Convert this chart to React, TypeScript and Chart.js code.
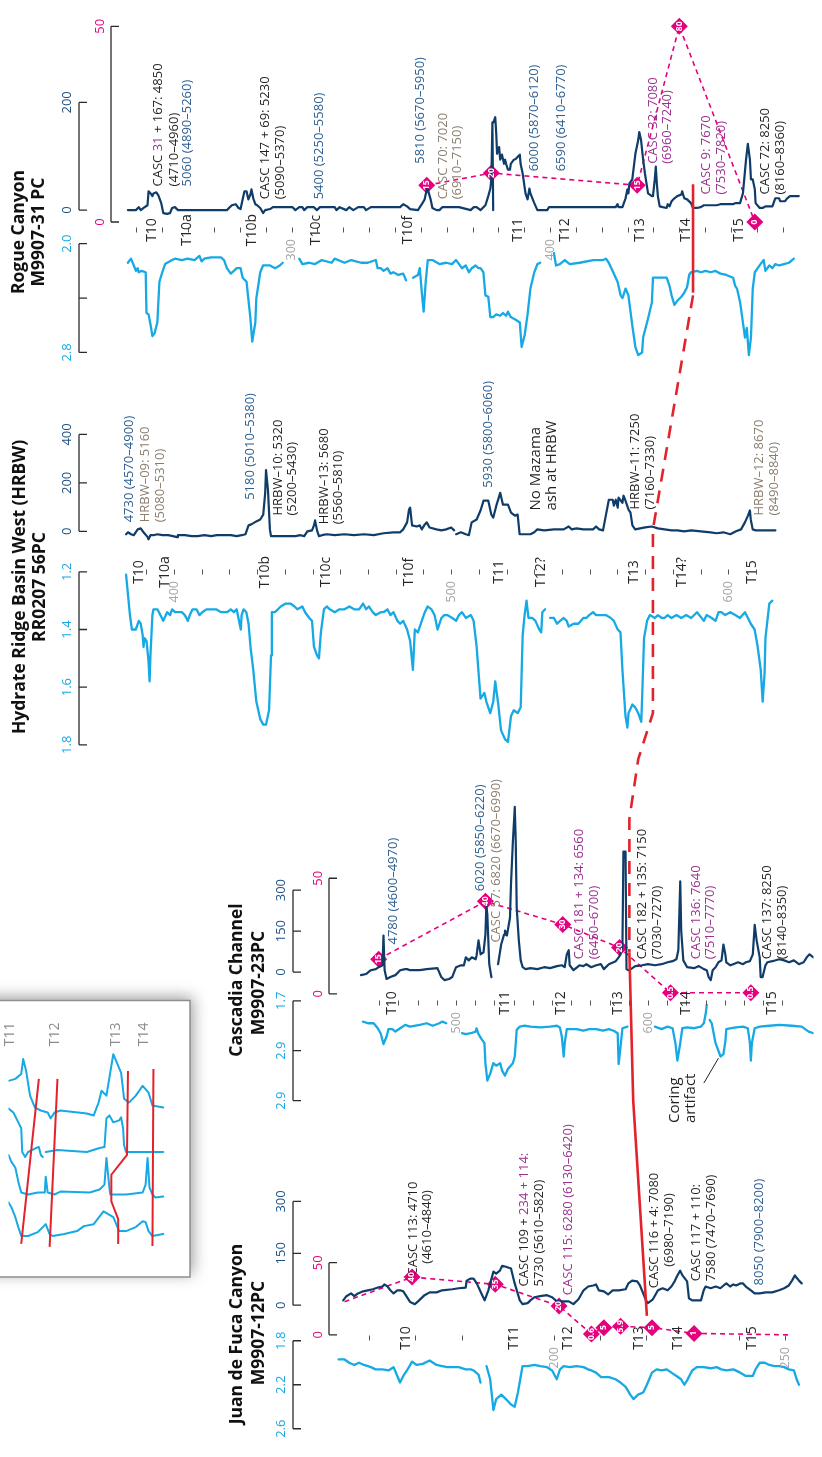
import React, { useEffect, useRef } from 'react';
import { Chart, registerables } from 'chart.js';

Chart.register(...registerables);

type Pt = [number, number] | null;
type Note = { d: number; v: number; t: string | string[]; k: string | string[]; big?: boolean; den?: boolean };

// ---------------- Rogue Canyon M9907-31 PC (depth cm, value) ----------------
const rogueSusc: Pt[] = [
  [236.7,0],[239.8,0],[240.9,5.5],[241.7,0],[242.8,4],[244.3,9],[244.7,35],[245.5,31],[246.2,26],[246.6,31],[247.7,33],[248.5,27.5],[249.6,13],[250.4,-5.5],[251.9,-7],[253,-5.5],[253.8,4],[254.9,5.5],[256.1,0],[258.7,0],[275,0],[276.9,9],[278.4,11],[279.5,4],[280.3,2],[281.1,20],[281.8,35],[282.6,35],[283.3,20],[284.1,29],[284.5,38.5],[285.2,22],[286,11],[286.7,9],[287.9,4],[289,-5.5],[289.8,0],[291.7,2],[292.8,5.5],[300.4,5.5],[301.5,0],[303,5.5],[304.2,5.5],[304.9,0],[306.1,5.5],[308.7,5.5],[309.8,0],[311,5.5],[316.7,5.5],[317.4,0],[318.6,5.5],[321.2,0],[322.3,5.5],[323.9,0],[325.8,5.5],[328,5.5],[328.8,0],[330.7,5.5],[342,5.5],[343.2,11],[344.7,7],[345.8,2],[348.9,0],[350.4,11],[351.5,20],[352.3,38.5],[352.7,38.5],[353.8,20],[354.5,4],[356.1,0],[357.2,0],[358.3,5.5],[364.8,5.5],[369.3,0],[370.5,5.5],[371.6,5.5],[373.1,0],[375,9],[376.1,26],[376.9,40],[377.3,57],[377.7,163],[378,0],null,[378.1,163],[378.8,172.5],[379.2,141],[379.5,104.6],[380.3,117],[380.7,93.6],[381.4,103],[382.2,86],[382.6,93.6],[383,86],[383.7,75],[384.5,75],[384.8,86],[386,93.6],[386.7,95],[387.5,99],[388.3,103],[388.6,86],[389.4,68],[390.5,31],[391.3,20],[392,40],[392.4,31],[393.9,13],[395.1,0],[398.9,0],[399.6,5.5],[425.4,5.5],[426.1,11],[426.5,5.5],[428,5.5],[429.2,22],[429.9,38.5],[430.3,31],[430.7,49.5],[431.8,57],[433,104.6],[434.1,130],[434.5,145],[435.2,130],[436,93.6],[436.7,68],[437.9,31],[439.4,26],[439.8,26],[440.5,57],[440.9,81],[441.3,49.5],[441.7,26],[442.4,7],[443.6,5.5],[445.1,4],[445.5,11],[446.2,7],[447,16.5],[448.1,22],[449.2,26],[450.8,29],[451.1,35],[451.9,22],[453,20],[454.5,13],[455.3,4],[456.8,4],[458.3,5.5],[459.5,9],[464.4,9],[465.9,11],[470.8,11],[471.6,13],[473.5,13],[473.9,20],[474.6,31],[475.8,93.6],[476.5,123],[477.3,93.6],[477.7,57],[478.4,57],[479.2,38.5],[479.5,13],[481.1,4],[482.2,4],[483.3,7],[486,7],[487.1,22],[488.6,22],[489,16.5],[490.9,16.5],[491.7,22],[492.8,26],[496.2,26]
];
const rogueDensity: Pt[] = [
  [236.7,2.14],[237.9,2.11],[239,2.16],[239.8,2.2],[240.5,2.18],[240.9,2.21],[242,2.2],[243.6,2.21],[243.9,2.51],[244.7,2.52],[245.5,2.6],[246.2,2.68],[247,2.66],[248.1,2.58],[248.9,2.28],[250,2.21],[251.1,2.15],[253.8,2.12],[254.9,2.11],[257.6,2.12],[259.8,2.11],[262.5,2.12],[264.4,2.09],[265.2,2.13],[266.3,2.11],[268.9,2.1],[272.7,2.1],[273.9,2.12],[275,2.18],[276.5,2.22],[277.7,2.2],[278.8,2.18],[280.3,2.18],[281.1,2.25],[282.6,2.28],[284.1,2.55],[284.8,2.72],[286,2.58],[286.4,2.4],[287.9,2.21],[289,2.16],[291.7,2.16],[293.6,2.18],[295.5,2.16],[296.6,2.14],null,[303,2.11],[304.2,2.15],[306.8,2.14],[309.1,2.15],[311.7,2.12],[315.5,2.14],[316.7,2.11],[320.5,2.14],[323.1,2.12],[326.9,2.14],[329.5,2.14],[332.6,2.12],[333.3,2.18],[334.5,2.18],[335.6,2.2],[337.1,2.18],[338.3,2.22],[339.4,2.21],[341.3,2.23],[343.2,2.22],[344.3,2.27],null,[347,2.25],[348.9,2.23],[349.6,2.18],[350.4,2.36],[351.1,2.5],[351.9,2.28],[352.7,2.12],[354.5,2.12],[357.2,2.15],[359.8,2.14],[362.1,2.15],[363.6,2.12],[364.8,2.15],[365.9,2.18],[367.4,2.16],[368.6,2.21],[369.7,2.18],[371.2,2.16],[372.3,2.18],[373.1,2.18],[374.2,2.21],[375,2.38],[376.1,2.39],[376.9,2.54],[378,2.54],[379.2,2.52],[380.7,2.53],[381.8,2.51],[383,2.53],[383.7,2.5],[384.8,2.54],[386.7,2.56],[388.3,2.58],[389,2.76],[390.2,2.67],[391.3,2.52],[392.4,2.33],[393.9,2.21],[395.1,2.15],[396.2,2.14],null,[401.5,2.07],[402.3,2.16],[403.8,2.15],[405.7,2.12],[407.6,2.15],[411.4,2.14],[416.7,2.12],[420.5,2.12],[421.6,2.11],[422.7,2.14],[424.2,2.2],[426.1,2.28],[427.3,2.38],[428,2.4],[429.2,2.33],[430.3,2.38],[431.8,2.6],[433,2.76],[434.1,2.82],[435.6,2.8],[436,2.69],[437.9,2.55],[439.4,2.43],[439.8,2.25],[441.3,2.25],[443.2,2.25],[445.1,2.25],[446.2,2.31],[447,2.38],[448.1,2.45],[449.2,2.42],[450.8,2.39],[451.9,2.36],[453,2.32],[453.8,2.23],[454.5,2.21],[456.8,2.2],[458.3,2.21],[460.2,2.2],[462.1,2.21],[464,2.2],[465.9,2.22],[468.2,2.23],[470.8,2.25],[471.6,2.31],[472.3,2.33],[473.5,2.43],[474.6,2.58],[475.4,2.69],[476.1,2.62],[476.9,2.82],[477.7,2.69],[478.4,2.33],[479.2,2.21],[480.3,2.18],[481.4,2.15],[482.6,2.12],[483.3,2.2],[484.8,2.16],[486,2.18],[487.1,2.15],[488.6,2.16],[490.5,2.15],[492.4,2.14],[494.3,2.11]
];
const rogueSandDepth = [352.3, 377.3, 433.7, 450, 479.2];
const rogueSandPct = [15, 20, 15, 80, 0];
const rogueSandShown = [true, true, true, true, true];
const rogueEvents = ['T10', 'T10a', 'T10b', 'T10c', 'T10f', 'T11', 'T12', 'T13', 'T14', 'T15'];
const rogueEventDepth = [246.2, 259.5, 284.8, 309.5, 345.1, 387.5, 405.7, 434.8, 452.7, 473.1];
const rogueDepthLabels = [300, 400];
const rogueSuscTicks = [0, 200];
const rogueSuscTickText = ['0', '200'];
const rogueDensTicks = [2.0, 2.4, 2.8];
const rogueDensTickText = ['2.0', '', '2.8'];
const rogueSandTicks = [0, 80];
const rogueSandTickText = ['0', '50'];
const rogueNotes: Note[] = [
  { d: 248.5, v: 44, t: ['CASC ', '31', ' + 167: 4850'], k: ['k', 'p', 'k'] },
  { d: 254.5, v: 44, t: '(4710–4960)', k: 'k' },
  { d: 259.5, v: 44, t: '5060 (4890–5260)', k: 'b' },
  { d: 289.8, v: 20, t: 'CASC 147 + 69: 5230', k: 'k' },
  { d: 295.5, v: 20, t: '(5090–5370)', k: 'k' },
  { d: 310.6, v: 20, t: '5400 (5250–5580)', k: 'b' },
  { d: 350, v: 86, t: '5810 (5670–5950)', k: 'b' },
  { d: 358.7, v: 20, t: 'CASC 70: 7020', k: 't' },
  { d: 364, v: 20, t: '(6910–7150)', k: 't' },
  { d: 393.9, v: 72, t: '6000 (5870–6120)', k: 'b' },
  { d: 404.5, v: 72, t: '6590 (6410–6770)', k: 'b' },
  { d: 439.8, v: 86, t: 'CASC 32: 7080', k: 'p' },
  { d: 445.5, v: 86, t: '(6960–7240)', k: 'p' },
  { d: 460.6, v: 29, t: 'CASC 9: 7670', k: 'p' },
  { d: 466.3, v: 29, t: '(7530–7820)', k: 'p' },
  { d: 483.3, v: 29, t: 'CASC 72: 8250', k: 'k' },
  { d: 489, v: 29, t: '(8160–8360)', k: 'k' },
];

// ---------------- Hydrate Ridge Basin West RR0207 56PC ----------------
const hrbwSusc: Pt[] = [
  [382.7,-12],[383.4,-4],[384.5,-12],[385.5,-16],[386.9,8],[388,12],[389,-4],[390.5,-24],[390.8,-33],[391.5,-16],[392.6,-16],[394,-12],[395.8,-16],[397.9,-16],[399.6,-20],[401.1,-24],[401.4,-16],[403.9,-16],[406.4,-20],[408.5,-20],[411,-16],[413.4,-20],[415.5,-16],[418,-16],[420.5,-16],[422.6,-20],[424.4,-16],[425.8,-12],[426.9,24.5],[427.9,28.6],[429.7,41],[431.1,49],[432.2,69],[432.9,159],[433.2,253],[433.9,171],[434.6,8],[435,-20],[438.2,-20],[443.8,-20],[445.6,-16],[447,-20],[448.1,0],[449.8,4],[450.5,24.5],[450.9,45],[451.6,4],[452.3,-20],[453.4,-16],[455.1,-12],[458,-16],[461.5,-12],[465,-16],[468.6,-12],[472.1,-16],[475.6,-8],[479.2,-4],[481.6,-4],[482.7,8],[484.1,37],[484.8,90],[485.2,98],[485.9,24.5],[487.6,20],[488.7,24.5],[489.4,8],[490.5,28.6],[491.2,37],[492.2,16],[494.7,8],[496.5,4],[498.2,8],[500,16],[501.1,4],null,[501.8,-12],[503.5,-4],[505.3,-12],[506.4,-16],[507.4,37],[509.2,49],[510.6,86],[511.7,126.5],[513.4,126.5],[514.5,69],[515.2,57],[516.3,106],[517.7,159],[518.7,110],[520.5,110],[521.6,77.5],[523,65],[524,69],[524.7,-12],[528.6,-12],[530,-4],[531.1,8],[533.6,4],[537.1,8],[540.6,8],[542.4,20],[543.5,8],[545.2,12],[547.7,8],[551.2,8],[552.3,20],[553.4,8],[554.8,4],[555.8,65],[556.9,130.5],[558.3,130.5],[558.7,106],[559.4,130.5],[560.1,98],[560.4,139],[561.8,118],[562.2,147],[562.9,126.5],[564,90],[564.7,77.5],[565.4,24.5],[566.4,8],[570,16],[572.4,20],[574.6,12],[577,8],[579.5,4],[581.6,4],[584.1,0],[586.6,4],[590.1,0],[593.6,-4],[595.8,-8],[598.2,-4],[600.7,-12],[602.8,0],[604.6,8],[606,37],[607.1,65],[607.8,86],[608.1,49],[608.8,8],[609.9,4],[612.4,4],[614.8,4],[617,4]
];
const hrbwDensity: Pt[] = [
  [382.7,1.21],[383.4,1.28],[384.1,1.35],[384.8,1.4],[385.5,1.4],[386.2,1.4],[387.3,1.37],[388,1.38],[388.7,1.42],[389,1.46],[389.4,1.43],[390.1,1.44],[390.8,1.51],[391.2,1.58],[391.5,1.49],[392.2,1.35],[392.6,1.33],[394,1.33],[395.1,1.35],[396.1,1.37],[397.5,1.34],[398.6,1.35],[399.3,1.33],[400.4,1.34],[401.4,1.34],[402.8,1.34],[403.9,1.35],[405,1.37],[405.7,1.35],[406.7,1.33],[408.1,1.33],[409.2,1.35],[410.2,1.34],[411.7,1.33],[412.7,1.33],[413.8,1.33],[415.2,1.33],[417,1.34],[418,1.34],[419.1,1.34],[420.5,1.33],[421.6,1.34],[422.6,1.33],[424.1,1.4],[424.4,1.35],[425.1,1.33],[426.1,1.34],[426.9,1.38],[427.6,1.46],[428.6,1.54],[429.7,1.65],[431.1,1.71],[432.2,1.73],[433.2,1.73],[434.3,1.68],[435,1.49],[435.3,1.34],[436.4,1.34],[437.5,1.33],[438.5,1.32],[440.3,1.31],[442,1.31],[443.5,1.32],[444.5,1.33],[446.3,1.32],[447.3,1.34],[448.8,1.36],[449.8,1.37],[450.5,1.46],[451.6,1.49],[452.3,1.5],[453,1.41],[454.1,1.33],[455.1,1.32],[456.2,1.33],[458,1.34],[459.7,1.33],[461.5,1.33],[463.3,1.32],[465,1.33],[466.8,1.33],[468.2,1.31],[469.3,1.33],[470.3,1.32],[471.7,1.34],[472.8,1.35],[474.6,1.34],[475.6,1.34],[477,1.33],[478.1,1.35],[479.2,1.34],[480.6,1.37],[481.6,1.38],[482.7,1.37],[484.1,1.4],[485.2,1.44],[486.2,1.54],[486.9,1.4],[488,1.41],[489.4,1.37],[490.5,1.34],[491.5,1.32],[492.9,1.33],[494,1.35],[495.1,1.4],[496.5,1.36],[497.5,1.35],[498.6,1.35],[500.4,1.36],[501.8,1.37],[502.8,1.35],[503.9,1.34],[505.3,1.36],[507.1,1.35],[508.1,1.37],[509.2,1.46],[510.6,1.64],[512,1.62],[512.7,1.65],[514.1,1.69],[515.2,1.65],[515.9,1.58],[517,1.66],[518,1.75],[519.4,1.78],[520.5,1.79],[521.6,1.7],[522.6,1.68],[524,1.69],[525.1,1.67],[525.8,1.42],[526.5,1.35],[527.2,1.3],[527.9,1.36],[529.3,1.36],[530.4,1.37],[531.8,1.4],[532.5,1.41],[532.9,1.34],[533.9,1.33],null,[535.7,1.36],[537.1,1.36],[538.2,1.38],[540.6,1.36],[541.7,1.37],[542.4,1.39],[544.2,1.38],[545.9,1.38],[547.7,1.36],[548.8,1.36],[549.8,1.35],[551.2,1.34],[552.3,1.35],[554.1,1.35],[555.8,1.35],[557.6,1.36],[558.7,1.37],[560.1,1.4],[561.1,1.41],[561.8,1.54],[562.9,1.7],[563.6,1.74],[564,1.69],[565.4,1.66],[566.4,1.67],[567.5,1.69],[568.6,1.72],[568.9,1.64],[569.6,1.43],[570.7,1.37],[571.7,1.35],[573.5,1.36],[574.6,1.35],[576,1.36],[577,1.36],[578.1,1.35],[579.5,1.36],[581.3,1.35],[583,1.36],[584.8,1.35],[586.6,1.36],[588.7,1.34],[591.2,1.37],[592.2,1.35],[594,1.36],[595.4,1.37],[596.5,1.34],[597.5,1.34],[598.9,1.35],[600.7,1.34],[602.5,1.35],[604.2,1.36],[606,1.34],[607.1,1.36],[608.1,1.38],[609.5,1.4],[610.6,1.46],[611.7,1.54],[612.4,1.65],[613.1,1.55],[613.4,1.43],[614.1,1.37],[614.8,1.31],[615.9,1.3]
];
const hrbwEvents = ['T10', 'T10a', 'T10b', 'T10c', 'T10f', 'T11', 'T12?', 'T13', 'T14?', 'T15'];
const hrbwEventDepth = [387.3, 396.8, 432.9, 454.8, 484.8, 517.3, 532.5, 566.1, 583.4, 608.5];
const hrbwDepthLabels = [400, 500, 600];
const hrbwSuscTicks = [0, 200, 400];
const hrbwSuscTickText = ['0', '200', '400'];
const hrbwDensTicks = [1.2, 1.4, 1.6, 1.8];
const hrbwDensTickText = ['1.2', '1.4', '1.6', '1.8'];
const hrbwNotes: Note[] = [
  { d: 383.7, v: 37, t: '4730 (4570–4900)', k: 'b' },
  { d: 389.8, v: 37, t: 'HRBW–09: 5160', k: 't' },
  { d: 395.1, v: 37, t: '(5080–5310)', k: 't' },
  { d: 427.6, v: 130, t: '5180 (5010–5380)', k: 'b' },
  { d: 437.5, v: 65, t: 'HRBW–10: 5320', k: 'k' },
  { d: 442.8, v: 65, t: '(5200–5430)', k: 'k' },
  { d: 454.1, v: 29, t: 'HRBW–13: 5680', k: 'k' },
  { d: 459.4, v: 29, t: '(5560–5810)', k: 'k' },
  { d: 513.4, v: 180, t: '5930 (5800–6060)', k: 'b' },
  { d: 530.4, v: 86, t: 'No Mazama', k: 'k', big: true },
  { d: 536.4, v: 86, t: 'ash at HRBW', k: 'k', big: true },
  { d: 566.4, v: 90, t: 'HRBW–11: 7250', k: 'k' },
  { d: 571.7, v: 90, t: '(7160–7330)', k: 'k' },
  { d: 611.3, v: 65, t: 'HRBW–12: 8670', k: 't' },
  { d: 616.6, v: 65, t: '(8490–8840)', k: 't' },
];

// ---------------- Cascadia Channel M9907-23PC ----------------
const cascSusc: Pt[] = [
  [450.5,-11],[453.1,-7],[455.6,7],[458.2,11],[459.7,18],[461.7,25],[462.2,134],[462.8,7],[463.8,-25],[465.8,-18],[468.4,-11],[470.9,7],[473.5,11],[474.5,11],[476,7],[477.6,7],[481.1,7],[484.7,11],[490.3,14.5],[492.3,-18],[493.9,-29],[496.4,-25],[498,-18],[500,18],[502.6,25],[504.1,25],[505.1,54],[506.6,43],[508.2,54],[510.2,47],[510.7,61],[511.7,116],[512.8,65],[514.3,72],[515.3,137],[515.8,246],[516.3,210],[517.3,29],[518.4,-18],null,[521.9,29],[523.5,101],[525,137],[525.5,152],[526.5,134],[528.1,199],[528.6,318],[529.6,477],[530.6,604],[531.1,477],[531.6,235],[532.7,116],[533.7,43],[534.7,18],[536.2,11],[538.8,14.5],[542.3,11],[545.9,18],[549,14.5],[552.6,22],[555.1,25],[556.6,18],[557.7,65],[558.7,80],[559.2,25],[561.2,7],[564.3,25],[566.3,22],[567.9,29],[570.4,18],[573,25],[575.5,29],[577,11],[579.6,29],[583.2,40],[584.7,54],[585.7,65],[586.7,101],[587.2,441],[588.3,441],[588.8,11],[589.8,7],[591.8,14.5],[593.4,22],[596.9,25],[600,29],[603.6,25],[607.1,29],[610.2,36],[612.8,40],[614.8,47],[615.8,80],[616.8,332],[617.3,152],[618.4,43],[620.4,18],[624,14.5],[626.5,22],[629.1,11],[630.6,7],[631.6,-18],[632.7,-29],[633.7,7],[635.2,18],[636.7,36],[638.3,43],[639.3,101],[640.3,65],[640.8,36],[642.9,25],[644.4,29],[646.9,36],[649.5,29],[651,36],[653.1,40],[654.6,65],[655.6,173],[656.6,116],[658.2,54],[658.7,-18],[659.7,-18],[661.2,25],[662.2,36],[664.8,40],[668.4,47],[670.9,43],[673.5,36],[676,43],[678.6,29],[681.1,36],[682.7,54],[684.2,65],[686.2,54]
];
const cascDensity: Pt[] = [
  [451.5,1.95],[454.1,1.97],[457.1,1.97],[459.2,2.03],[460.7,2.09],[462.2,2.22],[463.8,2.13],[464.8,2.04],[466.8,2.04],[468.4,2.07],[470.9,2.03],[473.5,1.99],[476,2.01],[481.1,1.99],[484.7,1.97],[487.8,2.0],[491.3,1.97],[492.9,1.95],[494.9,1.97],null,[503.1,2.09],[505.1,2.1],[507.7,2.09],[510.2,2.07],[510.7,2.03],[511.7,2.1],[513.3,2.16],[514.8,2.21],[515.3,2.45],[516.3,2.66],[517.9,2.57],[519.4,2.45],[520.9,2.48],[523,2.45],[524,2.54],[525.5,2.6],[527,2.52],[529.6,2.45],[530.6,2.37],[531.6,2.05],[533.2,2.01],[535.7,2.0],[538.8,2.01],[543.9,2.02],[549,2.01],[552.6,2.0],[554.1,2.02],[555.1,2.13],[556.1,2.37],[556.6,2.21],[557.7,2.04],[559.2,2.04],[562.8,2.04],[566.3,2.06],[569.4,2.04],[573,2.04],[576.5,2.06],[579.6,2.04],[582.1,2.06],[584.2,2.09],[584.7,2.46],[585.7,2.25],[586.7,2.03],[589.3,2.01],null,[603.6,2.01],[607.1,2.04],[610.2,2.01],[612.8,2.03],[614.3,2.21],[615.3,2.42],[616.8,2.21],[617.9,2.03],[620.4,2.02],[624,2.03],[627.6,2.01],[629.1,1.97],[630.1,1.85],[630.6,1.75],null,[632.1,1.93],[633.2,1.97],[635.2,2.21],[637.8,2.37],[639.3,2.34],[640.3,2.19],[640.8,2.04],[643.4,2.03],[645.9,2.02],[649.5,2.01],[652,2.03],[653.1,2.21],[653.6,2.42],[654.1,2.21],[655.6,2.03],[658.2,2.01],[663.3,2.0],[668.4,1.99],[675,2.0],[680.1,2.01],[683.7,2.07],[686.2,2.09]
];
const cascSandDepth = [459.7, 515.3, 555.6, 585.2, 611.7, 653.6];
const cascSandPct = [15, 40, 30, 20, 0.5, 0.5];
const cascSandShown = [true, true, true, true, true, true];
const cascEvents = ['T10', 'T11', 'T12', 'T13', 'T14', 'T15'];
const cascEventDepth = [466.8, 525.5, 554.6, 584.2, 619.9, 664.8];
const cascDepthLabels = [500, 600];
const cascSuscTicks = [0, 150, 300];
const cascSuscTickText = ['0', '150', '300'];
const cascDensTicks = [1.7, 2.3, 2.9];
const cascDensTickText = ['1.7', '2.9', '2.9'];
const cascSandTicks = [0, 50];
const cascSandTickText = ['0', '50'];
const cascNotes: Note[] = [
  { d: 467.3, v: 101, t: '4780 (4600–4970)', k: 'b' },
  { d: 512.8, v: 296, t: '6020 (5850–6220)', k: 'b' },
  { d: 520.9, v: 108, t: 'CASC 57: 6820 (6670–6990)', k: 't' },
  { d: 564.3, v: 47, t: 'CASC 181 + 134: 6560', k: 'p' },
  { d: 571.9, v: 47, t: '(6450–6700)', k: 'p' },
  { d: 596.9, v: 47, t: 'CASC 182 + 135: 7150', k: 'k' },
  { d: 605.1, v: 47, t: '(7030–7270)', k: 'k' },
  { d: 625, v: 47, t: 'CASC 136: 7640', k: 'p' },
  { d: 632.7, v: 47, t: '(7510–7770)', k: 'p' },
  { d: 662.2, v: 47, t: 'CASC 137: 8250', k: 'k' },
  { d: 669.9, v: 47, t: '(8140–8350)', k: 'k' },
  { d: 613.8, v: 3.17, t: 'Coring', k: 'k', big: true, den: true },
  { d: 622.4, v: 3.17, t: 'artifact', k: 'k', big: true, den: true },
];
// leader from the "Coring artifact" note to the density trace
const cascArtifactLeader: [number, number][] = [[629.1, 2.69], [636.7, 2.39]];

// ---------------- Juan de Fuca Canyon M9907-12PC ----------------
const jdfSusc: Pt[] = [
  [154.4,14],[155.1,26],[156.1,34],[156.8,26],[157.6,34],[158.7,40],[159.7,43],[160.8,46],[161.9,51],[162.9,54],[163.3,60],[164,54],[164.6,43],[165.3,34],[166.1,43],[166.7,43],[167.4,40],[168.9,9],[169.9,3],[170.6,11],[172,29],[173.1,37],[174.6,37],[175.8,43],[178,46],[179.4,49],[180.9,51],[181.1,71],[182,77],[182.6,77],[183.3,63],[184.3,34],[185,14],[185.8,43],[186.9,97],[187.5,91],[188.3,100],[188.8,114],[189.6,111],[190.7,106],[191.5,63],[192.6,14],[193.2,3],[194.3,6],[194.9,14],[195.8,23],[197,26],[198.5,29],[199.6,23],[200.6,11],[201.7,11],[203.2,11],[204.2,3],[205.3,17],[206.4,43],[207.4,54],[208.5,57],[209.1,60],[209.7,43],[210.8,40],[211.7,31],[212.7,43],[214,43],[215.5,46],[216.1,63],[216.9,71],[218,69],[218.6,57],[219.3,34],[219.9,14],[220.3,6],[221.4,17],[222.5,43],[223.5,49],[224.6,43],[225.4,54],[226.1,69],[226.7,86],[227.3,100],[227.8,86],[228.8,69],[229.2,20],[229.9,14],[230.7,14],[231.8,14],[232.4,43],[232.8,54],[233.9,49],[235,54],[236,49],[236.7,57],[237.3,63],[238.1,54],[238.8,60],[239.4,57],[240.3,63],[240.9,63],[241.5,54],[242.6,43],[243.4,34],[244.5,34],[245.8,37],[247.2,37],[248.7,43],[249.8,49],[250.8,57],[251.5,71],[252.1,86],[253,71],[253.6,63]
];
const jdfDensity: Pt[] = [
  [153.4,1.97],[154.7,1.97],[155.7,2.0],[156.8,2.02],[157.8,2.0],[158.9,2.02],[160.4,2.04],[161.4,2.06],[162.9,2.06],[164.2,2.07],[165.3,2.04],[166.1,2.12],[166.7,2.18],[167.4,2.12],[168.2,2.07],[169.3,1.99],[170.3,2.02],[171.6,2.01],[173.1,1.98],[174.6,2.02],[175.8,2.03],[176.9,2.04],[178,2.04],[179.4,2.04],[180.9,2.06],[182,2.06],[182.6,2.07],[183.7,2.11],[184.1,2.18],null,[185.4,2.03],[186.2,2.15],[186.9,2.43],[187.5,2.33],[188.6,2.29],[189.6,2.33],[190.7,2.38],[191.5,2.4],[192.2,2.27],[193.2,2.03],[194.3,2.03],[195.8,2.02],[197,2.03],[198.5,2.04],[199.6,2.07],[200.6,2.15],[201.3,2.06],[202.1,2.03],[203.4,2.04],[204.9,2.03],[206.4,2.04],[207.4,2.06],[208.1,2.07],[209.1,2.09],[210.2,2.13],[210.8,2.13],[211.9,2.13],[213.3,2.15],[214.4,2.18],[215.5,2.22],[216.5,2.29],[217.2,2.33],[218.2,2.29],[219.3,2.27],[220.1,2.2],[221.2,2.09],[222.2,2.06],[223.3,2.07],[224.4,2.06],[225.4,2.09],[226.5,2.12],[227.5,2.15],[228.2,2.2],[228.8,2.16],[229.9,2.07],[230.9,2.04],[232.4,2.04],[233.9,2.05],[235.2,2.04],[236.2,2.06],[237.3,2.07],[238.8,2.06],[240.3,2.09],[241.5,2.12],[243,2.12],[243.6,2.06],[244.5,2.0],[245.6,2.0],[246.6,2.02],[247.7,2.03],[248.7,2.03],[249.8,2.04],[250.8,2.06],[251.9,2.07],[252.5,2.15],[253,2.2]
];
const jdfSandDepth = [154.7, 169.3, 187.3, 201.1, 208.1, 210.8, 214.4, 221.2, 230.3, 250.8];
const jdfSandPct = [23, 40, 35, 20, 0.6, 5, 5.9, 5, 1, 0];
const jdfSandShown = [false, true, true, true, true, true, true, true, true, false];
const jdfEvents = ['T10', 'T11', 'T12', 'T13', 'T14', 'T15'];
const jdfEventDepth = [168, 191.3, 203, 218.4, 226.9, 242.8];
const jdfDepthLabels = [200, 250];
const jdfSuscTicks = [0, 150, 300];
const jdfSuscTickText = ['0', '150', '300'];
const jdfDensTicks = [1.8, 2.2, 2.6];
const jdfDensTickText = ['1.8', '2.2', '2.6'];
const jdfSandTicks = [0, 50];
const jdfSandTickText = ['0', '50'];
const jdfNotes: Note[] = [
  { d: 169.5, v: 86, t: 'CASC 113: 4710', k: 'k' },
  { d: 172.7, v: 120, t: '(4610–4840)', k: 'k' },
  { d: 193.6, v: 54, t: ['CASC 109 + ', '234 + 114:'], k: ['k', 'p'] },
  { d: 196.8, v: 54, t: '5730 (5610–5820)', k: 'k' },
  { d: 203.2, v: 29, t: 'CASC 115: 6280 (6130–6420)', k: 'p' },
  { d: 221.6, v: 49, t: 'CASC 116 + 4: 7080', k: 'k' },
  { d: 225, v: 111, t: '(6980–7190)', k: 'k' },
  { d: 230.7, v: 69, t: 'CASC 117 + 110:', k: 'k' },
  { d: 234.1, v: 69, t: '7580 (7470–7690)', k: 'k' },
  { d: 244.5, v: 57, t: '8050 (7900–8200)', k: 'b' },
];

// ---------------- event correlation (red line), anchored in each core ----------------
type Anchor = [string, string, number, number];
const correlationUpper: Anchor[] = [
  ['x_rogue', 'y_rogueSusc', 455.3, 48], ['x_rogue', 'y_rogueDens', 455.3, 2.36],
];
const correlationProjected: Anchor[] = [
  ['x_rogue', 'y_rogueDens', 455.3, 2.38], ['x_hrbw', 'y_hrbwSusc', 572.8, 8],
  ['x_hrbw', 'y_hrbwDens', 572.8, 1.69], ['x_hrbw', 'y_hrbwDens', 567.5, 1.85],
  ['x_casc', 'y_cascSusc', 590.3, 560], ['x_casc', 'y_cascSusc', 590.3, 72],
];
const correlationLower: Anchor[] = [
  ['x_casc', 'y_cascSusc', 590.3, 72], ['x_casc', 'y_cascDens', 592.3, 2.9], ['x_jdf', 'y_jdfSusc', 220.1, -31],
];

// ---------------- inset: four density logs across T11–T14 ----------------
const insetCoreA: Pt[] = [[0,2.8],[3.5,3.0],[6.5,3.5],[7.5,5.0],[9,3.8],[11,1.3],[13.5,0.1],[16.5,-0.2],[20,-0.4],[21.5,-1.0],[23.5,-0.4],[26.5,-0.2],[40,-0.5],[43.5,-0.7],[46,0.6],[47.5,1.8],[50,1.3],[53.5,5.5],[57.5,3.6],[59,1.0],[61.5,0.6],[65,1.3],[68.5,2.3],[71.5,1.6],[73.5,0.3],[79,0.1]];
const insetCoreB: Pt[] = [[0,4.4],[2.5,4.0],[5,3.0],[6.5,2.4],[7,0],[8.5,-0.5],[10,0],[14,0.4],[15.5,0.5],[16.5,-0.3],[17.5,-0.5],null,[19,0],[25,0.2],[40,0],[46.5,0.4],[49,0.5],[50,3.4],[51.5,3.7],[53.5,3.0],[56.5,3.2],[57.5,3.5],[58.5,2.4],[59,0.7],[60,0],[79,0]];
const insetCoreC: Pt[] = [[0,4.0],[1.5,3.3],[3.5,2.7],[5,1.3],[6.5,0.2],[10,0],[15,0.2],[18.5,0.2],[19,1.8],[20,0.2],[23.5,0],[26.5,0.3],[41.5,0.2],[46.5,0.5],[49,1.0],[50,3.7],[51.5,0.7],[52,0],[60,0],[68.5,0.2],[70,1.0],[71,3.7],[72,0.7],[73.5,0],[75,-0.3],[79,-0.2]];
const insetCoreD: Pt[] = [[0,3.2],[1.5,2.7],[3.5,1.7],[5,0.7],[6.5,-0.2],[10,-0.2],[15,0.2],[17.5,0.7],[19,1.0],[21,0],[22.5,-0.2],[28.5,0],[35,0.3],[38.5,0.8],[43.5,1.0],[48.5,2.3],[53.5,1.7],[55,1.0],[56.5,0.3],[60,0.3],[65,0.7],[68.5,1.3],[70,1.2],[71.5,0.3],[73.5,-0.2],[79,0]];
const insetLinks: [number, number][][] = [
  [[15.5, 19.4], [6.5, 2.7]],
  [[25, 19.4], [21, 2.4]],
  [[61, 20.2], [60.5, 11.7], [52.5, 9.7], [52.5, 7.0], [56, 5.2], [56, 2.7]],
  [[74, 20.4], [73.5, 2.5]],
];
const insetEvents = ['T11', 'T12', 'T13', 'T14'];
const insetEventDepth = [1, 23.5, 55, 69];

// ---------------- drawing setup ----------------
const W = 822;
const H = 1457;
const INSET_STACK = [16.4, 12, 7.7, 3.7];
const INSET_BOX = { left: -20, top: 1000, right: 190, bottom: 1277 };
const INSET_LABEL_LEVEL = 23.9;

const C = {
  navy: '#0f3c69', cyan: '#16a9e4', magenta: '#e5007e', red: '#e3232b', axis: '#2b2b2b',
  k: '#231f20', b: '#2d5e90', p: '#9a308f', t: '#8a7d6e', depth: '#a5a5a5',
  tickDark: '#1d4f82', tickLight: '#1aa8e2', inset: '#8c8c8c', event: '#262626',
};
const FONT = '"Open Sans", "DejaVu Sans", sans-serif';

const PANELS = [
  {
    key: 'rogue', x: 'x_rogue', susc: 'y_rogueSusc', dens: 'y_rogueDens', sand: 'y_rogueSand',
    depthRef: [300, 289, 400, 553], suscRef: [0, 204, 200, 95], densRef: [2.0, 238, 2.8, 348], sandRef: [0, 216, 80, 18],
    axisX: 79, sandX: 111, row: 230, tickFrom: 240, tickTo: 490,
    titles: [['Rogue Canyon', 19, 232], ['M9907-31 PC', 39, 232]],
    suscData: rogueSusc, densData: rogueDensity,
    sandDepth: rogueSandDepth, sandPct: rogueSandPct, sandShown: rogueSandShown,
    events: rogueEvents, eventDepth: rogueEventDepth, depthLabels: rogueDepthLabels, notes: rogueNotes,
    suscTicks: rogueSuscTicks, suscText: rogueSuscTickText, densTicks: rogueDensTicks, densText: rogueDensTickText,
    sandTicks: rogueSandTicks, sandText: rogueSandTickText,
  },
  {
    key: 'hrbw', x: 'x_hrbw', susc: 'y_hrbwSusc', dens: 'y_hrbwDens', sand: null,
    depthRef: [500, 452, 600, 735], suscRef: [0, 529, 400, 431], densRef: [1.2, 570, 1.8, 745], sandRef: null,
    axisX: 79, sandX: 0, row: 572, tickFrom: 390, tickTo: 610,
    titles: [['Hydrate Ridge Basin West (HRBW)', 20, 587], ['RR0207 56PC', 40, 587]],
    suscData: hrbwSusc, densData: hrbwDensity,
    sandDepth: null, sandPct: null, sandShown: null,
    events: hrbwEvents, eventDepth: hrbwEventDepth, depthLabels: hrbwDepthLabels, notes: hrbwNotes,
    suscTicks: hrbwSuscTicks, suscText: hrbwSuscTickText, densTicks: hrbwDensTicks, densText: hrbwDensTickText,
    sandTicks: null, sandText: null,
  },
  {
    key: 'casc', x: 'x_casc', susc: 'y_cascSusc', dens: 'y_cascDens', sand: 'y_cascSand',
    depthRef: [500, 457, 600, 653], suscRef: [0, 975, 300, 892], densRef: [1.7, 1004, 2.9, 1105], sandRef: [0, 997, 50, 880],
    axisX: 293, sandX: 329, row: 1003, tickFrom: 460, tickTo: 670,
    titles: [['Cascadia Channel', 237, 980], ['M9907-23PC', 259, 983]],
    suscData: cascSusc, densData: cascDensity,
    sandDepth: cascSandDepth, sandPct: cascSandPct, sandShown: cascSandShown,
    events: cascEvents, eventDepth: cascEventDepth, depthLabels: cascDepthLabels, notes: cascNotes,
    suscTicks: cascSuscTicks, suscText: cascSuscTickText, densTicks: cascDensTicks, densText: cascDensTickText,
    sandTicks: cascSandTicks, sandText: cascSandTickText,
  },
  {
    key: 'jdf', x: 'x_jdf', susc: 'y_jdfSusc', dens: 'y_jdfDens', sand: 'y_jdfSand',
    depthRef: [200, 557, 250, 793], suscRef: [0, 1312, 300, 1207], densRef: [1.8, 1348, 2.6, 1437], sandRef: [0, 1342, 50, 1269],
    axisX: 293, sandX: 329, row: 1338, tickFrom: 160, tickTo: 250,
    titles: [['Juan de Fuca Canyon', 237, 1334], ['M9907-12PC', 259, 1333]],
    suscData: jdfSusc, densData: jdfDensity,
    sandDepth: jdfSandDepth, sandPct: jdfSandPct, sandShown: jdfSandShown,
    events: jdfEvents, eventDepth: jdfEventDepth, depthLabels: jdfDepthLabels, notes: jdfNotes,
    suscTicks: jdfSuscTicks, suscText: jdfSuscTickText, densTicks: jdfDensTicks, densText: jdfDensTickText,
    sandTicks: jdfSandTicks, sandText: jdfSandTickText,
  },
];

// linear scale whose bounds place value v1 at pixel p1 and v2 at pixel p2
function linearFrom(axis: 'x' | 'y', ref: number[]) {
  const [v1, p1, v2, p2] = ref;
  const size = axis === 'x' ? W : H;
  const b = (p2 - p1) / (v2 - v1);
  const vStart = v1 - p1 / b;
  const vEnd = v1 + (size - p1) / b;
  if (axis === 'x') return { type: 'linear', axis: 'x', display: false, min: vStart, max: vEnd };
  if (b < 0) return { type: 'linear', axis: 'y', display: false, min: vEnd, max: vStart };
  return { type: 'linear', axis: 'y', display: false, min: vStart, max: vEnd, reverse: true };
}

function toXY(pts: Pt[], offset = 0) {
  let lastX = 0;
  return pts.map((p) => {
    if (!p) return { x: lastX, y: null };
    lastX = p[0];
    return { x: p[0], y: p[1] + offset };
  });
}

function trace(pts: Pt[], xId: string, yId: string, color: string, width: number, offset = 0) {
  return {
    type: 'line', data: toXY(pts, offset), xAxisID: xId, yAxisID: yId,
    borderColor: color, borderWidth: width, pointRadius: 0, tension: 0, fill: false, spanGaps: false,
    borderJoinStyle: 'round', borderCapStyle: 'round',
  };
}

function sandSeries(depths: number[], pct: number[], shown: boolean[], xId: string, yId: string) {
  return {
    type: 'line', data: depths.map((d, i) => ({ x: d, y: pct[i] })), xAxisID: xId, yAxisID: yId,
    borderColor: C.magenta, borderWidth: 1.6, borderDash: [5, 4], tension: 0, fill: false,
    pointStyle: 'rectRot', pointRadius: shown.map((s) => (s ? 8.5 : 0)), pointHoverRadius: 0,
    pointBackgroundColor: C.magenta, pointBorderColor: C.magenta, pointBorderWidth: 0,
    sandLabels: pct.map((v, i) => (shown[i] ? String(v) : '')),
  };
}

// text rotated a quarter turn anticlockwise; cx is the line centre, cy the anchor along the line
function rotText(ctx: CanvasRenderingContext2D, parts: [string, string][], cx: number, cy: number,
  align: 'start' | 'center' | 'end', font: string) {
  ctx.save();
  ctx.font = font;
  ctx.translate(cx, cy);
  ctx.rotate(-Math.PI / 2);
  ctx.textBaseline = 'middle';
  ctx.textAlign = 'left';
  const total = parts.reduce((s, [t]) => s + ctx.measureText(t).width, 0);
  let x = align === 'start' ? 0 : align === 'center' ? -total / 2 : -total;
  for (const [t, col] of parts) {
    ctx.fillStyle = col;
    ctx.fillText(t, x, 0);
    x += ctx.measureText(t).width;
  }
  ctx.restore();
}

function polyline(chart: any, anchors: Anchor[], dash: number[], width: number) {
  const ctx = chart.ctx;
  ctx.save();
  ctx.strokeStyle = C.red;
  ctx.lineWidth = width;
  ctx.setLineDash(dash);
  ctx.lineCap = 'butt';
  ctx.beginPath();
  anchors.forEach(([xs, ys, d, v], i) => {
    const px = chart.scales[xs].getPixelForValue(d);
    const py = chart.scales[ys].getPixelForValue(v);
    if (i === 0) ctx.moveTo(px, py); else ctx.lineTo(px, py);
  });
  ctx.stroke();
  ctx.restore();
}

function drawAxis(ctx: CanvasRenderingContext2D, scale: any, x: number, ticks: number[], text: string[], color: string, labelX: number) {
  ctx.save();
  ctx.strokeStyle = C.axis;
  ctx.lineWidth = 1.3;
  ctx.beginPath();
  ctx.moveTo(x, scale.getPixelForValue(ticks[0]));
  ctx.lineTo(x, scale.getPixelForValue(ticks[ticks.length - 1]));
  ticks.forEach((t) => {
    const p = scale.getPixelForValue(t);
    ctx.moveTo(x, p);
    ctx.lineTo(x + 8, p);
  });
  ctx.stroke();
  ctx.restore();
  ticks.forEach((t, i) => {
    if (text[i]) rotText(ctx, [[text[i], color]], labelX, scale.getPixelForValue(t), 'center', `13px ${FONT}`);
  });
}

const overlay = {
  id: 'coreOverlay',
  beforeDatasetsDraw(chart: any) {
    const ctx = chart.ctx;
    const w = INSET_BOX.right - INSET_BOX.left;
    const h = INSET_BOX.bottom - INSET_BOX.top;
    ctx.save();
    ctx.shadowColor = 'rgba(0,0,0,0.38)';
    ctx.shadowBlur = 14;
    ctx.shadowOffsetX = 3;
    ctx.shadowOffsetY = -3;
    ctx.fillStyle = '#ffffff';
    ctx.fillRect(INSET_BOX.left, INSET_BOX.top, w, h);
    ctx.restore();
    ctx.save();
    ctx.strokeStyle = '#8f8f8f';
    ctx.lineWidth = 1.5;
    ctx.strokeRect(INSET_BOX.left, INSET_BOX.top + 0.5, w, h - 0.5);
    ctx.restore();
  },
  afterDatasetsDraw(chart: any) {
    const ctx: CanvasRenderingContext2D = chart.ctx;
    const S = chart.scales;

    // event correlation
    polyline(chart, correlationUpper, [], 2.6);
    polyline(chart, correlationProjected, [13, 9], 2.6);
    polyline(chart, correlationLower, [], 2.6);

    // coring-artifact leader
    ctx.save();
    ctx.strokeStyle = C.k;
    ctx.lineWidth = 1;
    ctx.beginPath();
    ctx.moveTo(S.x_casc.getPixelForValue(cascArtifactLeader[0][0]), S.y_cascDens.getPixelForValue(cascArtifactLeader[0][1]));
    ctx.lineTo(S.x_casc.getPixelForValue(cascArtifactLeader[1][0]), S.y_cascDens.getPixelForValue(cascArtifactLeader[1][1]));
    ctx.stroke();
    ctx.restore();

    const kinds: Record<string, string> = { k: C.k, b: C.b, p: C.p, t: C.t };

    PANELS.forEach((p) => {
      const sx = S[p.x];
      // axes
      drawAxis(ctx, S[p.susc], p.axisX, p.suscTicks, p.suscText, C.tickDark, p.axisX - 12);
      drawAxis(ctx, S[p.dens], p.axisX, p.densTicks, p.densText, C.tickLight, p.axisX - 12);
      if (p.sand && p.sandTicks && p.sandText) drawAxis(ctx, S[p.sand], p.sandX, p.sandTicks, p.sandText, C.magenta, p.sandX - 11);

      // depth ticks every 10 cm
      ctx.save();
      ctx.strokeStyle = '#555555';
      ctx.lineWidth = 1;
      ctx.beginPath();
      for (let d = p.tickFrom; d <= p.tickTo; d += 10) {
        const x = Math.round(sx.getPixelForValue(d)) + 0.5;
        ctx.moveTo(x, p.row - 2.5);
        ctx.lineTo(x, p.row + 2.5);
      }
      ctx.stroke();
      ctx.restore();
      p.depthLabels.forEach((d) => rotText(ctx, [[String(d), C.depth]], sx.getPixelForValue(d), p.row + 9, 'end', `12.5px ${FONT}`));
      p.events.forEach((e, i) => rotText(ctx, [[e, C.event]], sx.getPixelForValue(p.eventDepth[i]), p.row, 'center', `14px ${FONT}`));

      // notes
      p.notes.forEach((n) => {
        const texts = Array.isArray(n.t) ? n.t : [n.t];
        const ks = Array.isArray(n.k) ? n.k : texts.map(() => n.k as string);
        const parts = texts.map((t, i) => [t, kinds[ks[i]]] as [string, string]);
        const ys = n.den ? S[p.dens] : S[p.susc];
        rotText(ctx, parts, sx.getPixelForValue(n.d), ys.getPixelForValue(n.v), 'start', `${n.big ? 15 : 13}px ${FONT}`);
      });

      // titles
      p.titles.forEach(([t, x, y]) => rotText(ctx, [[t as string, '#111111']], x as number, y as number, 'center', `bold 17.5px ${FONT}`));
    });

    // numbers inside the sand diamonds
    chart.data.datasets.forEach((ds: any, i: number) => {
      if (!ds.sandLabels) return;
      const meta = chart.getDatasetMeta(i);
      meta.data.forEach((el: any, j: number) => {
        const label = ds.sandLabels[j];
        if (label) rotText(ctx, [[label, '#ffffff']], el.x, el.y, 'center', `bold 8.5px ${FONT}`);
      });
    });

    // inset correlation lines and labels
    ctx.save();
    ctx.strokeStyle = C.red;
    ctx.lineWidth = 2;
    insetLinks.forEach((line) => {
      ctx.beginPath();
      line.forEach(([d, v], i) => {
        const px = S.x_inset.getPixelForValue(d);
        const py = S.y_inset.getPixelForValue(v);
        if (i === 0) ctx.moveTo(px, py); else ctx.lineTo(px, py);
      });
      ctx.stroke();
    });
    ctx.restore();
    insetEvents.forEach((e, i) => rotText(ctx, [[e, C.inset]], S.x_inset.getPixelForValue(insetEventDepth[i]),
      S.y_inset.getPixelForValue(INSET_LABEL_LEVEL), 'center', `14px ${FONT}`));
  },
};

function buildConfig() {
  const scales: any = { x: { display: false }, y: { display: false } };
  const datasets: any[] = [];
  PANELS.forEach((p) => {
    scales[p.x] = linearFrom('x', p.depthRef);
    scales[p.susc] = linearFrom('y', p.suscRef);
    scales[p.dens] = linearFrom('y', p.densRef);
    if (p.sand && p.sandRef) scales[p.sand] = linearFrom('y', p.sandRef);
    datasets.push(trace(p.densData, p.x, p.dens, C.cyan, 2.3));
    datasets.push(trace(p.suscData, p.x, p.susc, C.navy, 2.2));
    if (p.sand && p.sandDepth && p.sandPct && p.sandShown) {
      datasets.push(sandSeries(p.sandDepth, p.sandPct, p.sandShown, p.x, p.sand));
    }
  });
  scales.x_inset = linearFrom('x', [0, 0, 50, 100]);
  scales.y_inset = linearFrom('y', [0, 1277, 10, 1177]);
  [insetCoreA, insetCoreB, insetCoreC, insetCoreD].forEach((core, i) => {
    datasets.push(trace(core, 'x_inset', 'y_inset', C.cyan, 2, INSET_STACK[i]));
  });
  return {
    type: 'line',
    data: { datasets },
    options: {
      responsive: false,
      animation: false,
      devicePixelRatio: 1,
      events: [],
      layout: { padding: 0 },
      plugins: { legend: { display: false }, tooltip: { enabled: false }, title: { display: false } },
      scales,
    },
    plugins: [overlay],
  };
}

export default function App() {
  const ref = useRef<HTMLCanvasElement | null>(null);
  useEffect(() => {
    document.body.style.margin = '0';
    if (!ref.current) return;
    const chart = new Chart(ref.current, buildConfig() as any);
    return () => chart.destroy();
  }, []);
  return (
    <div style={{ width: W, height: H, background: '#ffffff' }}>
      <canvas ref={ref} width={W} height={H} style={{ display: 'block', width: W, height: H }} />
    </div>
  );
}
